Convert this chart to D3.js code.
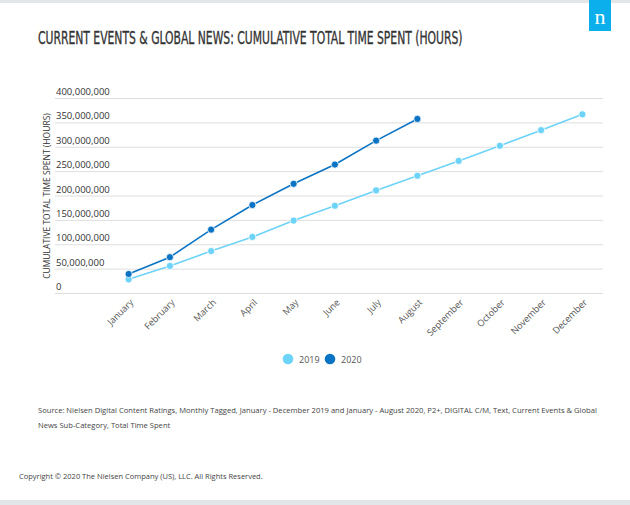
<!DOCTYPE html>
<html>
<head>
<meta charset="utf-8">
<script src="https://cdn.jsdelivr.net/npm/d3@7"></script>
<style>
  body { margin: 0; background: #fff; }
  svg { display: block; }
</style>
</head>
<body>
<div id="chart"></div>
<script>
// data
var months = ["January", "February", "March", "April", "May", "June", "July",
  "August", "September", "October", "November", "December"];
var values2019 = [28000000, 55500000, 86000000, 115000000, 148500000, 179000000,
  210500000, 240500000, 271000000, 302000000, 334000000, 366500000];
var values2020 = [39000000, 73500000, 130000000, 180500000, 224000000, 263500000,
  312500000, 357000000];
var yTicks = [0, 50000000, 100000000, 150000000, 200000000, 250000000, 300000000, 350000000, 400000000];
var seriesNames = ["2019", "2020"];
var colors = ["#6dd3f8", "#0a73c4"];

var width = 630, height = 505;
var margin = {top: 98, right: 27, bottom: 212, left: 108};

var svg = d3.select("#chart").append("svg")
  .attr("width", width)
  .attr("height", height);

// top and bottom bars
svg.append("rect").attr("x", 0).attr("y", 0).attr("width", width).attr("height", 3).attr("fill", "#e3e6e9");
svg.append("rect").attr("x", 0).attr("y", 500).attr("width", width).attr("height", 5).attr("fill", "#e3e6e9");

// nielsen logo
svg.append("rect").attr("x", 589).attr("y", 0).attr("width", 22).attr("height", 31).attr("fill", "#0aafec");
svg.append("text")
  .attr("x", 600).attr("y", 24)
  .attr("text-anchor", "middle")
  .attr("font-family", "'Liberation Serif', 'DejaVu Serif', serif")
  .attr("font-size", 22)
  .attr("fill", "#fff")
  .text("n");

// title - squeeze horizontally to the reference width
var title = svg.append("text")
  .attr("font-family", "'Liberation Sans Narrow', 'DejaVu Sans Condensed', 'Roboto', sans-serif")
  .attr("font-size", 18.5)
  .attr("fill", "#333")
  .attr("stroke", "#333")
  .attr("stroke-width", 0.35)
  .text("CURRENT EVENTS & GLOBAL NEWS: CUMULATIVE TOTAL TIME SPENT (HOURS)");
var tw = title.node().getComputedTextLength();
title.attr("transform", `translate(38,43.5) scale(${425 / tw},1)`);

var x = d3.scalePoint()
  .domain(months)
  .range([margin.left, width - margin.right])
  .padding(0.5);

var y = d3.scaleLinear()
  .domain([0, 400000000])
  .range([height - margin.bottom, margin.top]);

// y axis with grid
var yAxis = svg.append("g")
  .attr("transform", "translate(55,0)")
  .call(d3.axisLeft(y).tickValues(yTicks).tickSize(-(width - margin.right - 55)).tickFormat(d3.format(",")));
yAxis.select(".domain").remove();
yAxis.selectAll(".tick line").attr("stroke", "#dedede").attr("stroke-width", 1);
yAxis.selectAll(".tick text")
  .attr("x", 1).attr("dy", -3.5)
  .attr("text-anchor", "start")
  .attr("font-family", "'Open Sans', sans-serif")
  .attr("font-size", 9.5)
  .attr("fill", "#333");

// x axis
var xAxis = svg.append("g")
  .attr("transform", `translate(0,${height - margin.bottom})`)
  .call(d3.axisBottom(x).tickSize(0));
xAxis.select(".domain").remove();
xAxis.selectAll(".tick text")
  .attr("font-family", "'Open Sans', sans-serif")
  .attr("font-size", 9.2)
  .attr("fill", "#555")
  .attr("text-anchor", "end")
  .attr("dy", 0)
  .attr("y", 0)
  .attr("transform", "translate(5,10) rotate(-45)");

// y axis title
svg.append("text")
  .attr("transform", "translate(50,196) rotate(-90)")
  .attr("text-anchor", "middle")
  .attr("font-family", "'Open Sans', sans-serif")
  .attr("font-size", 8.5)
  .attr("fill", "#333")
  .text("CUMULATIVE TOTAL TIME SPENT (HOURS)");

// lines and markers
var allSeries = [values2019, values2020];
var line = d3.line()
  .x((d, i) => x(months[i]))
  .y(d => y(d));

allSeries.forEach(function(vals, s) {
  svg.append("path")
    .datum(vals)
    .attr("fill", "none")
    .attr("stroke", colors[s])
    .attr("stroke-width", 1.6)
    .attr("d", line);
  svg.append("g")
    .selectAll("circle")
    .data(vals)
    .join("circle")
      .attr("cx", (d, i) => x(months[i]))
      .attr("cy", d => y(d))
      .attr("r", 3.6)
      .attr("fill", colors[s])
      .attr("stroke", "#fff")
      .attr("stroke-width", 0.8);
});

// legend
var legendX = [288, 330];
seriesNames.forEach(function(name, i) {
  svg.append("circle")
    .attr("cx", legendX[i]).attr("cy", 359).attr("r", 5.3)
    .attr("fill", colors[i]);
  svg.append("text")
    .attr("x", legendX[i] + 11).attr("y", 362.5)
    .attr("font-family", "'Open Sans', sans-serif")
    .attr("font-size", 9)
    .attr("fill", "#555")
    .text(name);
});

// source + copyright
var source = svg.append("text")
  .attr("font-family", "'Open Sans', sans-serif")
  .attr("font-size", 7.6)
  .attr("fill", "#444");
source.append("tspan").attr("x", 38).attr("y", 413)
  .text("Source: Nielsen Digital Content Ratings, Monthly Tagged, January - December 2019 and January - August 2020, P2+, DIGITAL C/M, Text, Current Events & Global");
source.append("tspan").attr("x", 38).attr("y", 428)
  .text("News Sub-Category, Total Time Spent");

svg.append("text")
  .attr("x", 19).attr("y", 479)
  .attr("font-family", "'Open Sans', sans-serif")
  .attr("font-size", 7.5)
  .attr("fill", "#444")
  .text("Copyright © 2020 The Nielsen Company (US), LLC. All Rights Reserved.");
</script>
</body>
</html>
